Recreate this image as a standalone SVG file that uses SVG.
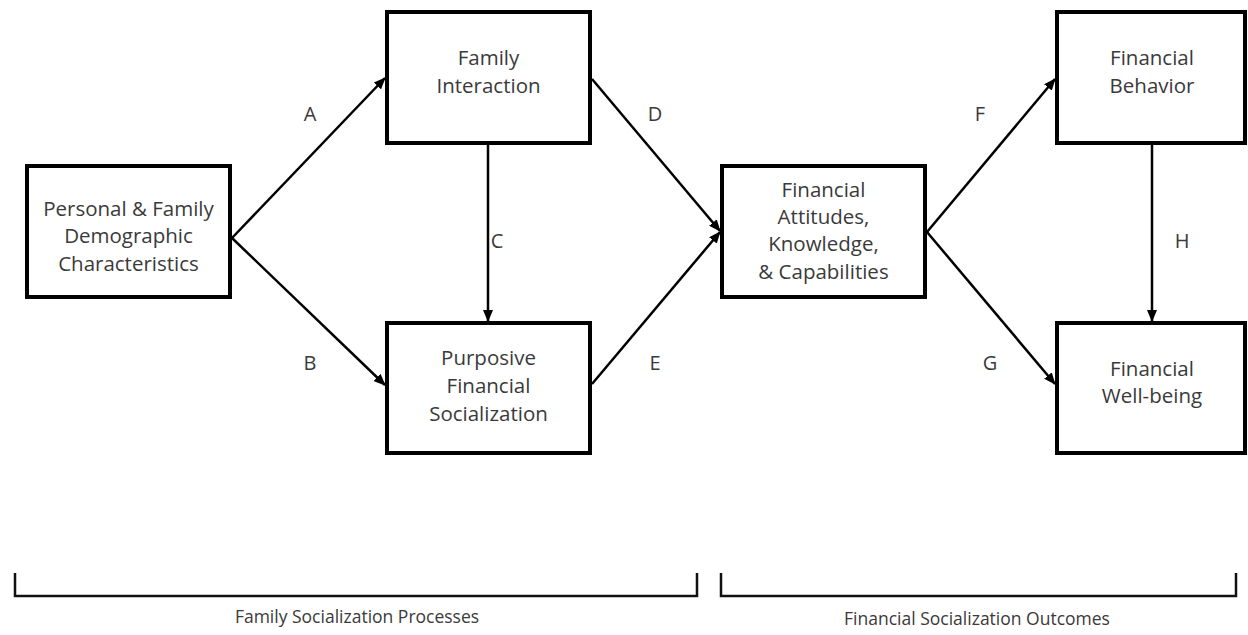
<svg xmlns="http://www.w3.org/2000/svg" width="1248" height="635" viewBox="0 0 1248 635">
<defs>
<style>
.box{fill:#fff;stroke:#000;stroke-width:4}
.t{font-family:"Open Sans","Liberation Sans",sans-serif;font-size:20.5px;fill:#3a3a3a;text-anchor:middle}
.bt{font-family:"Open Sans","Liberation Sans",sans-serif;font-size:17.5px;fill:#3a3a3a;text-anchor:middle}
.lbl{font-family:"Open Sans","Liberation Sans",sans-serif;font-size:20px;fill:#3a3a3a;text-anchor:middle}
.c{stroke:#000;stroke-width:2.5;fill:none;marker-end:url(#ah)}
.br{stroke:#111;stroke-width:2.5;fill:none}
</style>
<marker id="ah" viewBox="0 0 12 10" refX="11" refY="5" markerWidth="12" markerHeight="10" markerUnits="userSpaceOnUse" orient="auto">
<path d="M0,0 L12,5 L0,10 Z" fill="#000"/>
</marker>
</defs>
<rect width="1248" height="635" fill="#fff"/>
<g id="connectors">
<line class="c" x1="232" y1="238" x2="385" y2="78"/>
<line class="c" x1="232" y1="238" x2="385" y2="385"/>
<line class="c" x1="488" y1="145" x2="488" y2="321"/>
<line class="c" x1="592" y1="79" x2="720" y2="231"/>
<line class="c" x1="592" y1="384" x2="720" y2="232"/>
<line class="c" x1="927" y1="232" x2="1055" y2="79"/>
<line class="c" x1="927" y1="232" x2="1055" y2="384"/>
<line class="c" x1="1152" y1="145" x2="1152" y2="321"/>
<text class="lbl" x="310" y="121">A</text>
<text class="lbl" x="310" y="370">B</text>
<text class="lbl" x="497" y="248">C</text>
<text class="lbl" x="655" y="121">D</text>
<text class="lbl" x="655" y="370">E</text>
<text class="lbl" x="980" y="121">F</text>
<text class="lbl" x="990" y="370">G</text>
<text class="lbl" x="1182" y="248">H</text>
</g>
<g id="n-demographic">
<rect class="box" x="27" y="166" width="203" height="131"/>
<text class="t" x="128.5" y="216">Personal &amp; Family</text>
<text class="t" x="128.5" y="243">Demographic</text>
<text class="t" x="128.5" y="271">Characteristics</text>
</g>
<g id="n-family-interaction">
<rect class="box" x="387" y="12" width="203" height="131"/>
<text class="t" x="488.5" y="65">Family</text>
<text class="t" x="488.5" y="93">Interaction</text>
</g>
<g id="n-purposive">
<rect class="box" x="387" y="323" width="203" height="130"/>
<text class="t" x="488.5" y="365">Purposive</text>
<text class="t" x="488.5" y="393">Financial</text>
<text class="t" x="488.5" y="421">Socialization</text>
</g>
<g id="n-attitudes">
<rect class="box" x="722" y="166" width="203" height="131"/>
<text class="t" x="823.5" y="197">Financial</text>
<text class="t" x="823.5" y="224">Attitudes,</text>
<text class="t" x="823.5" y="251">Knowledge,</text>
<text class="t" x="823.5" y="279">&amp; Capabilities</text>
</g>
<g id="n-behavior">
<rect class="box" x="1057" y="12" width="188" height="131"/>
<text class="t" x="1152" y="65">Financial</text>
<text class="t" x="1152" y="93">Behavior</text>
</g>
<g id="n-wellbeing">
<rect class="box" x="1057" y="323" width="188" height="130"/>
<text class="t" x="1152" y="376">Financial</text>
<text class="t" x="1152" y="403">Well-being</text>
</g>
<g id="bracket-processes">
<path class="br" d="M15,573 V596 H697 V573"/>
<text class="bt" x="357" y="623">Family Socialization Processes</text>
</g>
<g id="bracket-outcomes">
<path class="br" d="M721,573 V596 H1236 V573"/>
<text class="bt" x="977" y="625">Financial Socialization Outcomes</text>
</g>
</svg>
